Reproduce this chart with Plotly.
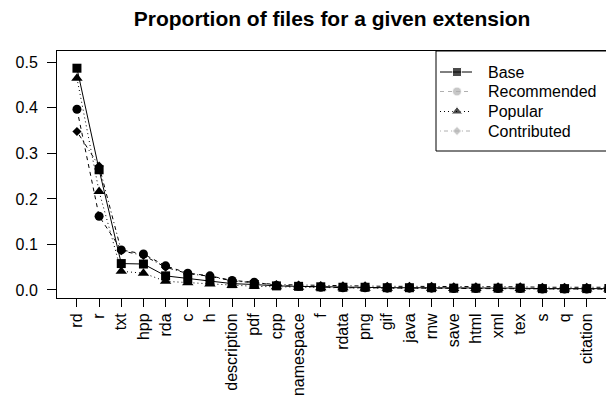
import plotly.graph_objects as go

# extension share of files per package group
EXTENSIONS = ['rd', 'r', 'txt', 'hpp', 'rda', 'c', 'h', 'description', 'pdf', 'cpp',
              'namespace', 'f', 'rdata', 'png', 'gif', 'java', 'rnw', 'save', 'html',
              'xml', 'tex', 's', 'q', 'citation']

# last value in each series belongs to a 25th extension cut off at the right edge
BASE        = [0.487, 0.264, 0.058, 0.057, 0.031, 0.025, 0.020, 0.014, 0.012, 0.009,
               0.008, 0.007, 0.006, 0.006, 0.005, 0.005, 0.005, 0.004, 0.004, 0.004,
               0.004, 0.003, 0.003, 0.003, 0.003]
RECOMMENDED = [0.397, 0.162, 0.088, 0.079, 0.053, 0.037, 0.031, 0.021, 0.017, 0.010,
               0.008, 0.006, 0.005, 0.005, 0.004, 0.004, 0.004, 0.003, 0.003, 0.003,
               0.003, 0.002, 0.002, 0.002, 0.002]
POPULAR     = [0.465, 0.216, 0.041, 0.037, 0.019, 0.016, 0.013, 0.010, 0.008, 0.007,
               0.006, 0.005, 0.005, 0.004, 0.004, 0.004, 0.004, 0.003, 0.003, 0.003,
               0.003, 0.002, 0.002, 0.002, 0.002]
CONTRIBUTED = [0.348, 0.272, 0.086, 0.076, 0.050, 0.036, 0.030, 0.020, 0.016, 0.012,
               0.011, 0.010, 0.009, 0.009, 0.008, 0.008, 0.008, 0.007, 0.007, 0.007,
               0.007, 0.006, 0.006, 0.006, 0.006]

FONT = 'Liberation Sans, Arial, Helvetica, sans-serif'
GREY = '#B0B0B0'

SERIES = [
    ('Base',        BASE,        'square',       9, 'solid',           'black', 'black'),
    ('Recommended', RECOMMENDED, 'circle',       9, '4px,4px',         'black', GREY),
    ('Popular',     POPULAR,     'triangle-up', 10, '1px,3px',         'black', 'black'),
    ('Contributed', CONTRIBUTED, 'diamond',      7, '1px,3px,4px,3px', 'black', GREY),
]

# plot box in pixels (left, right, top, bottom)
L, R, T, B = 57, 606, 51, 298

xs = list(range(len(BASE)))

fig = go.Figure()
for name, vals, sym, size, dash, col, legcol in SERIES:
    fig.add_trace(go.Scatter(
        x=xs, y=vals, mode='lines+markers', name=name, showlegend=False,
        line=dict(color=col, width=1, dash=dash),
        marker=dict(symbol=sym, size=size, color=col),
    ))

# hand-drawn legend on a pixel overlay (R style: tight rows, grey keys for two groups)
row_y = [72, 91.5, 111.5, 131]
for (name, vals, sym, size, dash, col, legcol), y in zip(SERIES, row_y):
    fig.add_trace(go.Scatter(
        x=[440, 457, 472], y=[y, y, y], mode='lines+markers', showlegend=False,
        xaxis='x2', yaxis='y2', hoverinfo='skip',
        line=dict(color=legcol, width=1, dash=dash),
        marker=dict(symbol=sym, size=[0, size, 0], color=legcol),
    ))
    fig.add_annotation(x=486, y=y, xref='x2', yref='y2', text=name, showarrow=False,
                       xanchor='left', yanchor='middle',
                       font=dict(family=FONT, size=16, color='black'))

fig.add_shape(type='rect', xref='x2', yref='y2', x0=436, x1=640, y0=T, y1=151,
              line=dict(color='black', width=1))

fig.update_layout(
    width=606, height=414,
    margin=dict(l=L, r=606 - R, t=T, b=414 - B),
    paper_bgcolor='white', plot_bgcolor='white',
    font=dict(family=FONT, size=16, color='black'),
    showlegend=False,
    title=dict(text='<b>Proportion of files for a given extension</b>',
               x=0.548, xanchor='center', y=0.954, yanchor='middle',
               font=dict(family=FONT, size=21, color='black')),
    xaxis=dict(range=[-0.90, 23.87], tickmode='array',
               tickvals=xs[:len(EXTENSIONS)], ticktext=EXTENSIONS,
               tickangle=-90, ticks='outside', ticklen=8, tickcolor='black',
               showline=True, linecolor='black', linewidth=1, mirror=True,
               showgrid=False, zeroline=False),
    yaxis=dict(range=[-0.0176, 0.5248], tickvals=[0, 0.1, 0.2, 0.3, 0.4, 0.5],
               ticktext=['0.0', '0.1', '0.2', '0.3', '0.4', '0.5'],
               ticks='outside', ticklen=9, tickcolor='black', ticklabelstandoff=6,
               showline=True, linecolor='black', linewidth=1,
               showgrid=False, zeroline=False),
    xaxis2=dict(overlaying='x', range=[L, R], visible=False, fixedrange=True),
    yaxis2=dict(overlaying='y', range=[B, T], visible=False, fixedrange=True),
)

fig.write_html('out.html', config={'displayModeBar': False},
               post_script="document.body.style.margin='0';")
